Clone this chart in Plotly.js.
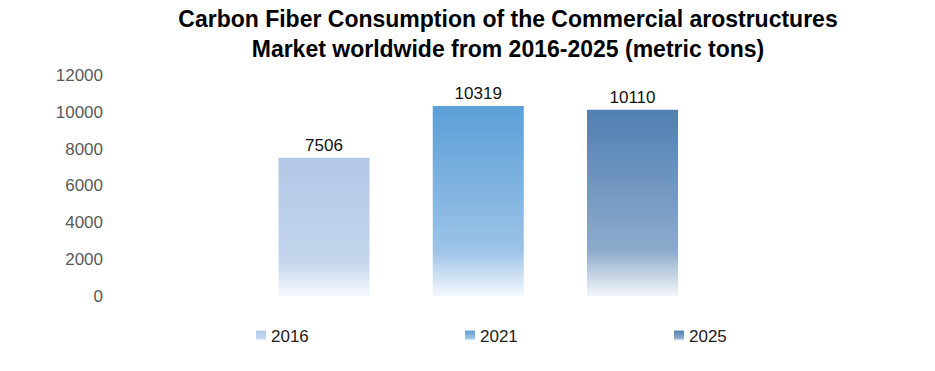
<!DOCTYPE html>
<html>
<head>
<meta charset="utf-8">
<script src="https://cdn.plot.ly/plotly-3.0.1.min.js"></script>
<style>
html,body{margin:0;padding:0;background:#fff;}
#chart{width:935px;height:371px;}
</style>
</head>
<body>
<div id="chart"></div>
<script>
const categories = ['2016', '2021', '2025'];
const values = [7506, 10319, 10110];
const yTicks = [0, 2000, 4000, 6000, 8000, 10000, 12000];
// gradient stops per series: top, mid (76%), bottom
const gradTop = ['#b2c8e6', '#5b9fd8', '#4f7fb3'];
const gradMid = ['#c5d6ed', '#9cc3e7', '#8eabcc'];
const gradBot = ['#f7f9fd', '#f4f8fd', '#f4f6fa'];

const traces = categories.map((c, i) => ({
  type: 'bar',
  name: c,
  x: [c],
  y: [values[i]],
  width: 0.59,
  marker: {color: gradTop[i], line: {width: 0}},
  text: [String(values[i])],
  textposition: 'outside',
  cliponaxis: false,
  textfont: {family: 'Liberation Sans, Arial, sans-serif', size: 17, color: '#111'},
  hoverinfo: 'none'
}));

const layout = {
  width: 935, height: 371,
  margin: {l: 110, r: 30, t: 75, b: 75, autoexpand: false},
  paper_bgcolor: '#fff', plot_bgcolor: '#fff',
  barmode: 'overlay',
  showlegend: true,
  title: {
    text: '<b>Carbon Fiber Consumption of the Commercial arostructures<br>Market worldwide from 2016-2025 (metric tons)</b>',
    font: {family: 'Liberation Sans, Arial, sans-serif', size: 23, color: '#000'},
    x: 508 / 935, xref: 'container', xanchor: 'center',
    y: 1 - 27 / 371, yref: 'container', yanchor: 'middle',
    automargin: false
  },
  xaxis: {
    type: 'category',
    categoryorder: 'array', categoryarray: categories,
    range: [-1.3874, 3.7666],
    showticklabels: false, showgrid: false, zeroline: false, showline: false, ticks: ''
  },
  yaxis: {
    range: [0, 12000],
    tickvals: yTicks,
    ticktext: yTicks.map(String),
    showgrid: false, zeroline: false, showline: false, ticks: '',
    ticklabelstandoff: 6,
    tickfont: {family: 'Liberation Sans, Arial, sans-serif', size: 17, color: '#595959'}
  },
  legend: {
    orientation: 'h',
    x: 121 / 795, xanchor: 'left',
    y: (296 - 336) / 221, yanchor: 'middle',
    entrywidth: 164, entrywidthmode: 'pixels',
    font: {family: 'Liberation Sans, Arial, sans-serif', size: 17, color: '#222'},
    traceorder: 'normal'
  }
};

Plotly.newPlot('chart', traces, layout, {staticPlot: true, displayModeBar: false}).then(gd => {
  const svg = gd.querySelector('svg.main-svg');
  const ns = 'http://www.w3.org/2000/svg';
  let defs = svg.querySelector('defs');
  if (!defs) { defs = document.createElementNS(ns, 'defs'); svg.insertBefore(defs, svg.firstChild); }
  categories.forEach((c, i) => {
    const lg = document.createElementNS(ns, 'linearGradient');
    lg.setAttribute('id', 'barGrad' + i);
    lg.setAttribute('x1', '0'); lg.setAttribute('y1', '0');
    lg.setAttribute('x2', '0'); lg.setAttribute('y2', '1');
    [[0, gradTop[i]], [0.76, gradMid[i]], [1, gradBot[i]]].forEach(([o, col]) => {
      const s = document.createElementNS(ns, 'stop');
      s.setAttribute('offset', o);
      s.setAttribute('stop-color', col);
      lg.appendChild(s);
    });
    defs.appendChild(lg);
  });
  gd.querySelectorAll('.barlayer .trace').forEach((t, i) => {
    t.querySelectorAll('path').forEach(p => { p.style.fill = 'url(#barGrad' + i + ')'; });
  });
  gd.querySelectorAll('.legend .traces').forEach((t, i) => {
    t.querySelectorAll('.legendpoints path').forEach(p => {
      p.style.fill = 'url(#barGrad' + i + ')';
      p.setAttribute('d', 'M5,5H-5V-5H5Z');
    });
    const lp = t.querySelector('.legendpoints');
    if (lp) lp.setAttribute('transform', 'translate(10,0)');
  });
});
</script>
</body>
</html>
